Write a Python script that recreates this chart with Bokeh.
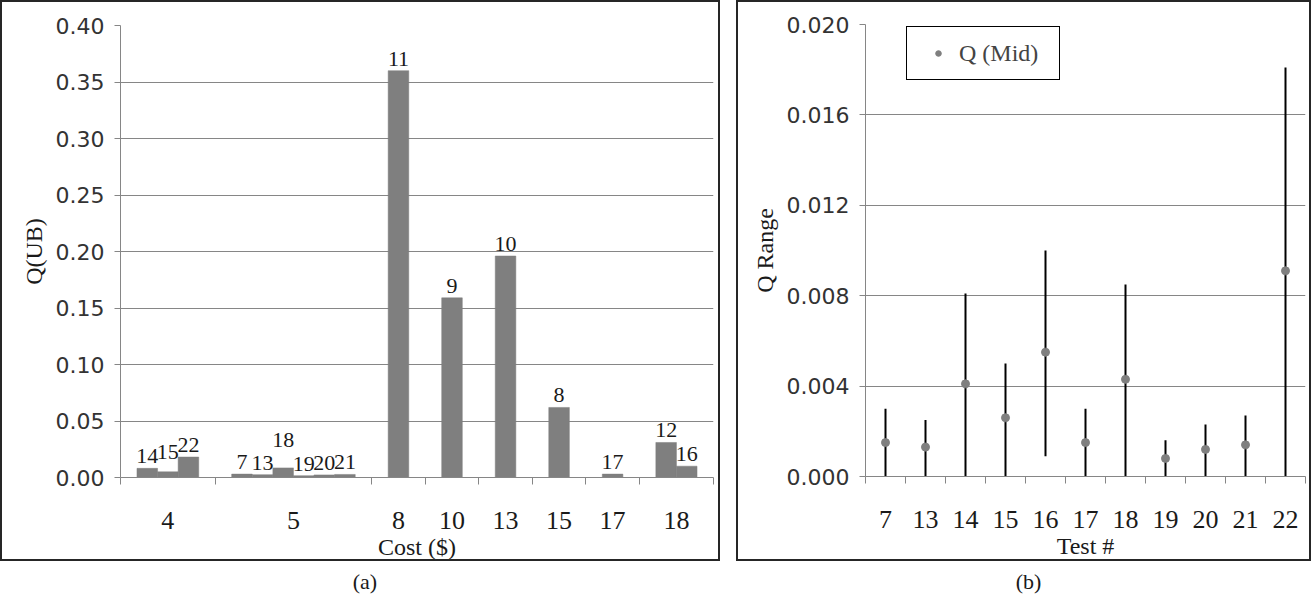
from bokeh.plotting import figure
from bokeh.models import (Range1d, FixedTicker, NumeralTickFormatter, ColumnDataSource,
                          Legend, LegendItem, Div)
from bokeh.layouts import row, column
from bokeh.embed import file_html
from bokeh.resources import INLINE
from bokeh.core.properties import value

# ---------------- data ----------------
costs = ["4", "5", "8", "10", "13", "15", "17", "18"]
tests_by_cost = [["14", "15", "22"],
                 ["7", "13", "18", "19", "20", "21"],
                 ["11"], ["9"], ["10"], ["8"], ["17"],
                 ["12", "16"]]
q_ub_by_cost = [[0.0081, 0.0050, 0.0181],
                [0.0030, 0.0025, 0.0085, 0.0016, 0.0023, 0.0027],
                [0.360], [0.159], [0.196], [0.062], [0.0030],
                [0.031, 0.0100]]

tests = ["7", "13", "14", "15", "16", "17", "18", "19", "20", "21", "22"]
q_low = [0.0, 0.0, 0.0, 0.0, 0.0009, 0.0, 0.0, 0.0, 0.0, 0.0, 0.0]
q_high = [0.0030, 0.0025, 0.0081, 0.0050, 0.0100, 0.0030, 0.0085, 0.0016, 0.0023, 0.0027, 0.0181]
q_mid = [0.0015, 0.0013, 0.0041, 0.0026, 0.0055, 0.0015, 0.0043, 0.0008, 0.0012, 0.0014, 0.0091]

# label nudges (pixels, styling only)
label_raise = {"18": 16, "15": 8}

# ---------------- styles ----------------
GRAY = "#868686"
BAR = "#7f7f7f"
SERIF = "Liberation Serif"
SANS = "DejaVu Sans"
BOX = {"border": "2px solid #262626"}

# ---------------- chart (a) ----------------
END_PAD, GAP = 0.8, 1.6
xs, tops, labs, offs, centers, bounds = [], [], [], [], [], [0.0]
pos = END_PAD
for gi, (c, ts, vs) in enumerate(zip(costs, tests_by_cost, q_ub_by_cost)):
    start = pos
    for t, v in zip(ts, vs):
        xs.append(pos + 0.5)
        tops.append(v)
        labs.append(t)
        offs.append(-(5 + label_raise.get(t, 0)))
        pos += 1
    centers.append((start + pos) / 2)
    if gi < len(costs) - 1:
        bounds.append(pos + GAP / 2)
        pos += GAP
total = pos + END_PAD
bounds.append(total)

src_a = ColumnDataSource(dict(x=xs, top=tops, lab=labs, off=offs))

pa = figure(frame_width=589, frame_height=448,
            min_border_left=118, min_border_right=9, min_border_top=23, min_border_bottom=86,
            x_range=Range1d(0, total), y_range=Range1d(0, 0.40),
            output_backend="svg", toolbar_location=None, styles=BOX)
pa.outline_line_color = None
pa.vbar(x="x", top="top", width=1.0, source=src_a, fill_color=BAR, line_color=BAR, line_width=0.5)
pa.text(x="x", y="top", text="lab", source=src_a, y_offset="off",
        text_align="center", text_baseline="bottom",
        text_font=value(SERIF), text_font_size="22px", text_color="#1a1a1a")

pa.xgrid.grid_line_color = None
pa.ygrid.grid_line_color = GRAY
pa.yaxis.ticker = FixedTicker(ticks=[round(0.05 * i, 2) for i in range(9)])
pa.yaxis.formatter = NumeralTickFormatter(format="0.00")
pa.xaxis.ticker = FixedTicker(ticks=centers, minor_ticks=bounds)
pa.xaxis.major_label_overrides = {c: lab for c, lab in zip(centers, costs)}
pa.xaxis.axis_label = "Cost ($)"
pa.yaxis.axis_label = "Q(UB)"

# ---------------- chart (b) ----------------
xb = [i + 0.5 for i in range(len(tests))]
src_b = ColumnDataSource(dict(x=xb, lo=q_low, hi=q_high, mid=q_mid))
pb = figure(frame_width=436, frame_height=448,
            min_border_left=127, min_border_right=8, min_border_top=22, min_border_bottom=87,
            x_range=Range1d(0, len(tests)), y_range=Range1d(0, 0.020),
            output_backend="svg", toolbar_location=None, styles=BOX)
pb.outline_line_color = None
pb.segment(x0="x", y0="lo", x1="x", y1="hi", source=src_b, line_color="black", line_width=2)
pts = pb.scatter(x="x", y="mid", source=src_b, size=8, marker="circle",
                 fill_color=BAR, line_color=BAR)
pb.xgrid.grid_line_color = None
pb.ygrid.grid_line_color = GRAY
pb.yaxis.ticker = FixedTicker(ticks=[round(0.004 * i, 3) for i in range(6)])
pb.yaxis.formatter = NumeralTickFormatter(format="0.000")
pb.xaxis.ticker = FixedTicker(ticks=xb, minor_ticks=list(range(len(tests) + 1)))
pb.xaxis.major_label_overrides = {x: t for x, t in zip(xb, tests)}
pb.xaxis.axis_label = "Test #"
pb.yaxis.axis_label = "Q Range"

legend = Legend(items=[LegendItem(label="Q (Mid)", renderers=[pts])],
                location=(41, 448 - 52), margin=0, padding=12,
                glyph_width=38, glyph_height=14, label_standoff=2,
                label_width=88, label_height=28,
                label_text_font=SERIF, label_text_font_size="24px",
                border_line_color="black", border_line_width=1.5, border_line_alpha=1.0,
                background_fill_color="white", background_fill_alpha=1.0)
pb.add_layout(legend)

for p in (pa, pb):
    for ax in (p.xaxis, p.yaxis):
        ax.axis_line_color = GRAY
        ax.axis_line_width = 1
        ax.axis_label_text_font = SERIF
        ax.axis_label_text_font_size = "24px"
        ax.axis_label_text_font_style = "normal"
        ax.axis_label_text_color = "#1a1a1a"
    p.yaxis.major_label_text_font = SANS
    p.yaxis.major_label_text_font_size = "22px"
    p.yaxis.major_label_text_color = "#333333"
    p.yaxis.major_tick_line_color = GRAY
    p.yaxis.major_tick_out = 6
    p.yaxis.major_tick_in = 0
    p.yaxis.minor_tick_line_color = None
    p.yaxis.major_label_standoff = 10
    p.yaxis.axis_label_standoff = 6
    p.xaxis.major_tick_line_color = None
    p.xaxis.major_tick_out = 0
    p.xaxis.major_tick_in = 0
    p.xaxis.minor_tick_line_color = GRAY
    p.xaxis.minor_tick_out = 7
    p.xaxis.minor_tick_in = 0
    p.xaxis.major_label_text_font = SERIF
    p.xaxis.major_label_text_font_size = "26px"
    p.xaxis.major_label_text_color = "#1a1a1a"
    p.xaxis.major_label_standoff = 27
    p.xaxis.axis_label_standoff = 2

cap_style = {"text-align": "center", "font-family": SERIF, "font-size": "22px", "color": "#1a1a1a"}
cap_a = Div(text="(a)", width=720, styles=cap_style)
cap_b = Div(text="(b)", width=575, styles=cap_style)

layout = row(column(pa, cap_a, spacing=0), column(pb, cap_b, spacing=0), spacing=6)
open("out.html", "w").write(file_html(layout, INLINE))
